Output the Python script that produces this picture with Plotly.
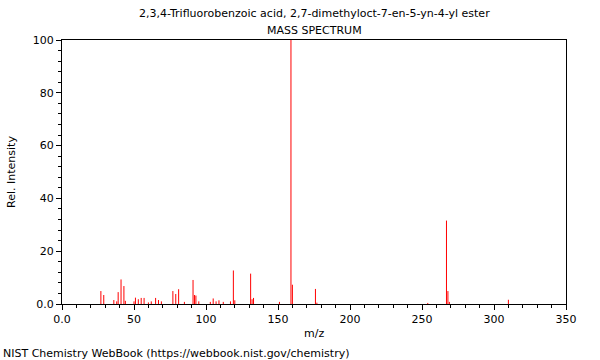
import plotly.graph_objects as go

mz = [27, 29, 36, 38, 39, 41, 43, 44, 50, 51, 53, 55, 57, 60, 62, 65, 67, 69,
      77, 79, 81, 85, 91, 92, 93, 95, 103, 105, 107, 109, 112, 117, 119, 120,
      131, 132, 133, 151, 159, 160, 176, 177, 254, 267, 268, 269, 310]
intensity = [4.9, 3.4, 1.5, 1.0, 4.5, 9.3, 6.8, 1.2, 1.0, 2.4, 1.8, 2.3, 2.3, 0.6, 1.0, 2.3, 1.5, 1.0,
             4.9, 3.8, 5.6, 0.8, 9.1, 3.4, 3.2, 1.0, 0.8, 2.1, 1.0, 1.4, 0.8, 1.0, 12.7, 1.4,
             11.5, 1.8, 2.3, 0.8, 100.0, 7.3, 5.7, 0.5, 0.4, 31.6, 4.9, 0.8, 1.6]

x_tickvals = [0, 50, 100, 150, 200, 250, 300, 350]
x_ticktext = ["0.0", "50", "100", "150", "200", "250", "300", "350"]
y_tickvals = [0, 20, 40, 60, 80, 100]
y_ticktext = ["0.0", "20", "40", "60", "80", "100"]

title_line1 = "2,3,4-Trifluorobenzoic acid, 2,7-dimethyloct-7-en-5-yn-4-yl ester"
title_line2 = "MASS SPECTRUM"
x_title = "m/z"
y_title = "Rel. Intensity"
credit = "NIST Chemistry WebBook (https://webbook.nist.gov/chemistry)"

xs, ys = [], []
for m, v in zip(mz, intensity):
    xs += [m, m, None]
    ys += [0, v, None]

fig = go.Figure()
fig.add_trace(go.Scatter(x=xs, y=ys, mode="lines",
                         line=dict(color="#ff0000", width=1),
                         hoverinfo="skip", showlegend=False))

font = dict(family="DejaVu Sans", size=11, color="black")
fig.update_layout(
    width=600, height=360,
    margin=dict(l=62, r=34, t=40, b=56, autoexpand=False),
    paper_bgcolor="white", plot_bgcolor="white",
    font=font,
    showlegend=False,
)
fig.update_xaxes(range=[0, 350], tickvals=x_tickvals, ticktext=x_ticktext,
                 showgrid=False, zeroline=False, showline=True, linecolor="black",
                 linewidth=1, mirror=True, ticks="outside", ticklen=5, tickcolor="black",
                 automargin=False,
                 minor=dict(dtick=10, ticks="outside", ticklen=3, tickcolor="black"))
fig.update_yaxes(range=[0, 100], tickvals=y_tickvals, ticktext=y_ticktext,
                 showgrid=False, zeroline=False, showline=True, linecolor="black",
                 linewidth=1, mirror=True, ticks="outside", ticklen=5, tickcolor="black",
                 automargin=False,
                 minor=dict(dtick=4, ticks="outside", ticklen=3, tickcolor="black"),
                 title=dict(text=y_title, font=font, standoff=14))

fig.add_annotation(text=title_line1, xref="paper", yref="paper", x=0.5, y=1,
                   yshift=27, showarrow=False, font=font, xanchor="center", yanchor="middle")
fig.add_annotation(text=title_line2, xref="paper", yref="paper", x=0.5, y=1,
                   yshift=10, showarrow=False, font=font, xanchor="center", yanchor="middle")
fig.add_annotation(text=x_title, xref="paper", yref="paper", x=0.5, y=0,
                   yshift=-29, showarrow=False, font=font, xanchor="center", yanchor="middle")
fig.add_annotation(text=credit, xref="paper", yref="paper", x=-61/504, y=0,
                   yshift=-49, showarrow=False, font=font, xanchor="left", yanchor="middle")

fig.write_html("out.html", config={"displayModeBar": False},
               post_script="document.body.style.margin='0';document.body.style.overflow='hidden';")
